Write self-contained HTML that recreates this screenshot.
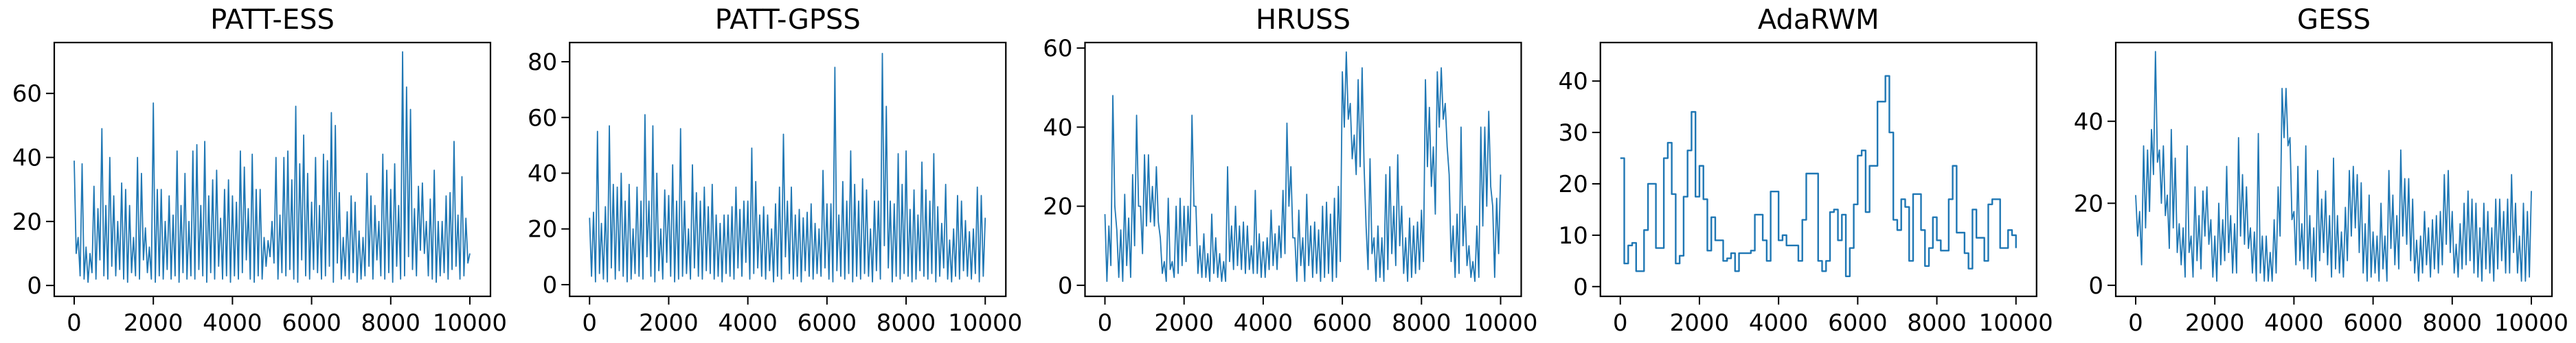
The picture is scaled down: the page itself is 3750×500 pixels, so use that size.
<!DOCTYPE html>
<html><head><meta charset="utf-8">
<style>
html,body{margin:0;padding:0;background:#fff;}
svg{display:block;}
text{font-family:"DejaVu Sans","Liberation Sans",sans-serif;fill:#000;}
</style></head>
<body>
<svg id="fig" width="3750" height="500" viewBox="0 0 3750 500" xmlns="http://www.w3.org/2000/svg"></svg>
<script>
const titles = ["PATT-ESS","PATT-GPSS","HRUSS","AdaRWM","GESS"];
const xTicks = [0,2000,4000,6000,8000,10000];
const yTicks1 = [0,20,40,60];
const yTicks2 = [0,20,40,60,80];
const yTicks3 = [0,20,40,60];
const yTicks4 = [0,10,20,30,40];
const yTicks5 = [0,20,40];
const yLim1 = [-3.4,75.9];
const yLim2 = [-4.2,86.9];
const yLim3 = [-2.8,61.4];
const yLim4 = [-1.9,47.5];
const yLim5 = [-2.7,59.2];
// sample index step = 100 iterations; hi/lo envelope per sample
const hi1 = [39,15,38,12,10,31,24,49,25,40,28,20,32,30,25,15,40,35,18,12,57,30,30,20,28,22,42,25,35,20,42,44,25,45,28,33,36,21,30,33,28,26,42,37,24,41,30,30,15,14,20,40,22,40,42,33,56,38,47,35,26,40,25,41,39,54,50,29,15,23,28,26,17,15,35,28,25,20,41,36,30,38,25,73,62,55,24,31,32,20,27,36,20,20,28,29,45,22,34,21,10];
const lo1 = [10,3,2,1,4,2,8,3,2,6,3,5,2,1,4,3,2,8,4,2,1,3,2,5,2,3,1,4,2,3,2,5,3,1,4,2,6,2,3,1,3,2,4,8,2,1,3,2,6,9,7,2,4,3,5,2,1,8,3,2,5,4,2,3,6,1,7,2,3,2,4,1,2,3,6,2,8,3,2,4,1,6,2,3,9,5,3,11,10,3,2,1,3,4,2,5,6,2,3,7,5];
const hi2 = [24,26,55,22,28,57,36,35,40,30,36,20,35,30,61,30,57,40,20,34,32,43,30,56,30,20,43,33,30,35,28,36,25,22,25,25,28,35,27,30,30,49,37,25,28,25,20,29,35,54,30,35,25,27,24,26,29,22,20,41,29,29,78,25,37,30,48,36,30,38,34,20,30,30,83,64,30,29,47,36,48,27,34,25,44,34,30,47,28,22,36,16,20,32,30,23,19,20,35,32,24];
const lo2 = [3,1,4,2,1,6,2,5,3,1,2,4,3,2,10,3,1,5,2,8,3,1,2,3,4,2,6,3,2,5,4,2,3,1,4,3,2,6,3,8,2,4,6,3,2,5,1,3,2,10,4,2,3,1,5,3,2,4,3,6,2,1,5,3,2,4,1,3,2,4,3,1,5,2,14,6,1,3,2,4,3,1,2,5,3,2,4,1,3,6,2,1,3,2,5,3,2,4,1,3,10];
const hi3 = [18,15,48,14,14,23,17,28,43,20,33,33,25,30,12,6,22,6,20,22,20,20,43,20,10,13,8,18,12,8,6,30,15,20,15,16,15,10,24,13,11,12,19,13,15,24,41,30,12,19,12,23,15,16,14,20,21,18,22,25,54,59,46,38,52,55,15,32,12,15,12,28,30,20,33,20,12,17,15,16,19,52,45,35,54,55,46,28,15,18,40,20,10,6,15,40,40,44,20,22,28];
const lo3 = [1,5,20,2,1,5,2,10,20,8,15,16,15,16,3,1,4,2,3,5,6,10,20,3,2,2,1,3,2,1,1,6,4,5,4,3,4,3,3,2,2,4,5,4,7,8,20,12,1,5,1,5,2,3,1,2,3,1,2,6,40,42,32,28,30,30,4,8,1,2,1,4,8,5,10,3,1,2,3,4,6,30,25,18,40,42,35,6,2,3,10,5,2,1,2,15,20,25,2,8,2];
const ada = [25,4.5,8,8.5,3,3,11,20,20,7.5,7.5,25,28,18,4.5,6,17.5,26.5,34,17.5,23.5,17,7,13.5,9,9,5,5.5,6.5,3,6.5,6.5,6.5,7,14,14,9,5,18.5,18.5,9,10,8,8,8,5,13,22,22,22,5,3,5,14.5,15,9,14,2,7.5,16,25.5,26.5,14.5,23.5,23.5,36,36,41,30,13,11,17,15.5,5,18,18,11,4,7.5,13.5,9,7,7,17,23.5,10.5,10.5,6.5,3.5,15,9.5,9.5,5,16,17,17,7.5,7.5,11,10,7.5];
const hi5 = [22,18,34,33,38,57,33,34,22,38,31,15,14,34,12,24,17,23,24,16,12,20,16,29,17,15,36,27,24,14,13,37,12,12,8,16,24,48,48,36,18,29,15,34,17,14,28,21,23,17,31,17,13,19,28,29,27,25,15,22,13,12,20,12,28,22,17,33,26,26,21,11,12,18,14,16,17,18,27,28,18,10,15,20,23,21,20,14,20,18,14,21,21,18,21,27,20,12,20,18,23];
const lo5 = [12,5,14,18,27,30,20,17,9,14,8,5,2,8,2,6,4,12,10,2,1,5,6,8,3,3,12,10,9,3,1,3,1,1,1,3,12,36,34,16,5,6,4,4,2,1,6,8,5,2,4,3,2,6,12,14,8,3,1,2,3,1,4,1,9,5,4,12,10,6,3,1,3,5,2,4,3,5,10,8,3,2,4,5,6,3,2,1,4,3,1,4,6,3,3,8,3,1,1,2,14];
const series = [
  {hi:hi1, lo:lo1, ticks:yTicks1, lim:yLim1},
  {hi:hi2, lo:lo2, ticks:yTicks2, lim:yLim2},
  {hi:hi3, lo:lo3, ticks:yTicks3, lim:yLim3},
  {step:ada, ticks:yTicks4, lim:yLim4},
  {hi:hi5, lo:lo5, ticks:yTicks5, lim:yLim5}
];
const NS = "http://www.w3.org/2000/svg";
const svg = document.getElementById('fig');
function mk(tag, attrs, parent){ const e=document.createElementNS(NS,tag); for(const k in attrs) e.setAttribute(k,attrs[k]); (parent||svg).appendChild(e); return e; }
const axTop=62, axBot=432, axW=635, panelStep=750.25, firstLeft=79;
series.forEach((s,p)=>{
  const L = firstLeft + p*panelStep, R = L+axW;
  const xs = v => L + 29 + v/10000*576;
  const ys = v => axBot - (v - s.lim[0])/(s.lim[1]-s.lim[0])*(axBot-axTop);
  const g = mk('g',{});
  
  
  const t = mk('text',{x:(L+R)/2, y:42, 'text-anchor':'middle','font-size':40}, g);
  t.textContent = titles[p];
  
  
  let pts=[];
  if(s.step){
    s.step.forEach((v,i)=>{
      pts.push(xs(i*100)+','+ys(v));
      if(i<s.step.length-1) pts.push(xs((i+1)*100)+','+ys(v));
    });
  } else {
    s.hi.forEach((v,i)=>{
      pts.push(xs(i*100)+','+ys(v));
      if(i<s.hi.length-1) pts.push(xs(i*100+50)+','+ys(s.lo[i]));
    });
  }
  const clip = mk('clipPath',{id:'c'+p}, g);
  mk('rect',{x:L,y:axTop,width:axW,height:axBot-axTop}, clip);
  const line = mk('polyline',{points:pts.join(' '), fill:'none', stroke:'#1f77b4','stroke-width': s.step?2.4:1.8,'stroke-linejoin':'round','clip-path':'url(#c'+p+')'}, g);
  
  
  const frame = mk('rect',{x:L,y:axTop,width:axW,height:axBot-axTop,fill:'none',stroke:'#000','stroke-width':2.2}, g);
  
  
  xTicks.forEach(v=>{
    mk('line',{x1:xs(v),x2:xs(v),y1:axBot,y2:axBot+12,stroke:'#000','stroke-width':2}, g);
    const tl = mk('text',{x:xs(v), y:482, 'text-anchor':'middle','font-size':34}, g);
    tl.textContent = v;
    
    
  });
  s.ticks.forEach(v=>{
    mk('line',{x1:L-12,x2:L,y1:ys(v),y2:ys(v),stroke:'#000','stroke-width':2}, g);
    const tl = mk('text',{x:L-18, y:ys(v)+12, 'text-anchor':'end','font-size':34}, g);
    tl.textContent = v;
    
    
  });
});
</script>
</body></html>
